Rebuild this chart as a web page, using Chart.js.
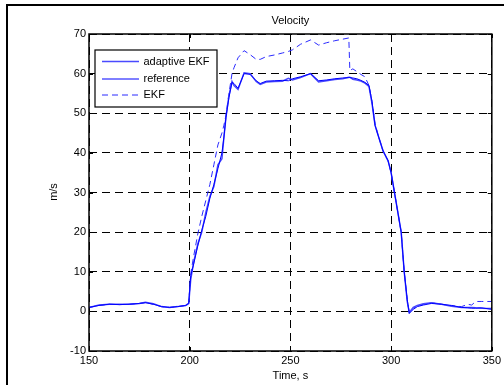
<!DOCTYPE html>
<html><head><meta charset="utf-8">
<script src="https://cdn.jsdelivr.net/npm/chart.js@4/dist/chart.umd.min.js"></script>
<style>html,body{margin:0;padding:0;background:#fff}#wrap{width:504px;height:385px;position:relative}</style>
</head><body><div id="wrap"><canvas id="c" width="504" height="385"></canvas></div>
<script>
const times=[150,155,160,165,170,175,178,182,186,190,194,198,199.5,200.5,202,204,206,208,210,212,214,216,217,218,219.5,221,222,224,227,230,233,235,238,242,246,249,251,255,260,264,268,272,276,279,279.5,281,283,285,287,289,290.5,292,293.5,296,298.5,300,302,305,306.5,308,309,311,313,316,320,325,330,335,338,340,342,345,350];
const reference=[1.0,1.5,1.8,1.7,1.8,2.0,2.2,1.8,1.2,1.0,1.2,1.5,2.0,9.0,12,16.5,20.5,24,28.5,32,36,40,44,49,54,57.8,57.5,56.3,60,59.8,58.2,57.5,58.1,58.2,58.3,58.2,58.7,59.2,60,58.2,58.4,58.7,58.9,59.0,59.0,58.9,58.7,58.3,57.8,57,53,47,44.5,40.5,38,35,29,20,10,3,-0.5,0.5,1.2,1.6,2.0,1.8,1.5,1.0,0.9,0.8,0.8,0.9,0.5];
const adaptiveEKF=[1.0,1.6,1.8,1.8,1.8,2.0,2.3,1.9,1.2,1.0,1.2,1.5,2.0,8,12.5,17,20,25,29,31.5,37,38.5,44,49,54.5,58,57,56,60.2,60,58,57.3,57.9,58,58.1,58.8,58.4,59,60,57.9,58.2,58.5,58.7,59.1,59.1,58.6,58.4,58.1,57.6,56.8,52.5,47,44.5,40.5,38,35,29,20,10,2.5,-0.3,1.0,1.5,1.9,2.2,1.8,1.3,1.0,1.0,1.0,0.9,0.8,0.7];
const ekf=[1.0,1.5,1.8,1.7,1.8,2.0,2.2,1.8,1.2,1.0,1.2,1.5,2.0,9.5,14,19.5,24,28,32,37,42,45,47,49.5,55,60,61.5,64,65.8,64.8,63.6,63.6,64.3,64.7,65.2,65.6,66,67.4,68.5,67.2,67.8,68.3,68.7,69,60.8,61.2,60.5,59.8,59.2,57,53,47.5,44.5,40.5,38,35,29,20,10,3,-0.2,0.8,1.3,1.8,2.2,1.8,1.4,1.2,1.8,1.6,2.5,2.5,2.5];
const seriesNames=['adaptive EKF','reference','EKF'];
const xRange=[150,350], xStep=50;
const yRange=[-10,70], yStep=10;
const titleText='Velocity', xTitle='Time, s', yTitle='m/s';

const FONT='"Liberation Sans", Arial, Helvetica, sans-serif';
const pts=(arr)=>times.map((t,i)=>({x:t,y:arr[i]}));
const styles={
  'adaptive EKF':{color:'#4a4aff',width:1.5,dash:[]},
  'reference':{color:'#0000ff',width:1,dash:[]},
  'EKF':{color:'#2a2aff',width:1,dash:[6,4]}
};

const deco={
  id:'deco',
  afterDraw(chart){
    const ctx=chart.ctx, a=chart.chartArea, xs=chart.scales.x, ys=chart.scales.y;
    ctx.save();
    ctx.strokeStyle='#000'; ctx.lineWidth=2; ctx.setLineDash([]);
    ctx.beginPath(); ctx.moveTo(7,400); ctx.lineTo(7,5); ctx.lineTo(520,5); ctx.stroke();
    ctx.lineWidth=1;
    for(let v=xRange[0]; v<=xRange[1]; v+=xStep){
      const x=Math.round(xs.getPixelForValue(v))+0.5;
      ctx.beginPath(); ctx.moveTo(x,a.bottom); ctx.lineTo(x,a.bottom-4); ctx.moveTo(x,a.top); ctx.lineTo(x,a.top+4); ctx.stroke();
    }
    for(let v=yRange[0]; v<=yRange[1]; v+=yStep){
      const y=Math.round(ys.getPixelForValue(v))+0.5;
      ctx.beginPath(); ctx.moveTo(a.left,y); ctx.lineTo(a.left+4,y); ctx.moveTo(a.right,y); ctx.lineTo(a.right-4,y); ctx.stroke();
    }
    ctx.lineWidth=1.5;
    ctx.strokeRect(a.left,a.top,a.right-a.left,a.bottom-a.top);
    ctx.fillStyle='#000'; ctx.font='11px '+FONT; ctx.textAlign='center'; ctx.textBaseline='middle';
    ctx.fillText(titleText,(a.left+a.right)/2,21);
    ctx.fillText(xTitle,(a.left+a.right)/2,376);
    ctx.save(); ctx.translate(54,192); ctx.rotate(-Math.PI/2); ctx.fillText(yTitle,0,0); ctx.restore();
    const lx=95, ly=50, lw=122, lh=57;
    ctx.fillStyle='#fff'; ctx.fillRect(lx,ly,lw,lh);
    ctx.strokeStyle='#000'; ctx.lineWidth=1.2; ctx.strokeRect(lx,ly,lw,lh);
    const rows=[61.5,79,95];
    seriesNames.forEach((n,i)=>{
      const s=styles[n];
      ctx.strokeStyle=s.color; ctx.lineWidth=s.width; ctx.setLineDash(s.dash);
      ctx.beginPath(); ctx.moveTo(102,rows[i]); ctx.lineTo(139,rows[i]); ctx.stroke();
      ctx.setLineDash([]);
      ctx.fillStyle='#000'; ctx.textAlign='left'; ctx.textBaseline='middle';
      ctx.fillText(n,143.5,rows[i]);
    });
    ctx.restore();
  }
};

const ds=(name,arr)=>({label:name,data:pts(arr),borderColor:styles[name].color,borderWidth:styles[name].width,borderDash:styles[name].dash,pointRadius:0,tension:0,fill:false});

new Chart(document.getElementById('c'),{
  type:'line',
  data:{datasets:[ds('reference',reference),ds('adaptive EKF',adaptiveEKF),ds('EKF',ekf)]},
  options:{
    responsive:false, animation:false, devicePixelRatio:1,
    layout:{padding:{left:0,right:12,top:34,bottom:0}},
    plugins:{legend:{display:false},title:{display:false},tooltip:{enabled:false}},
    scales:{
      x:{type:'linear',min:xRange[0],max:xRange[1],
        ticks:{stepSize:xStep,color:'#000',font:{family:FONT,size:11},padding:3,maxRotation:0,autoSkip:false},
        grid:{color:'#000',lineWidth:1,drawTicks:false},
        border:{display:false,dash:[8,5]},
        afterFit:(s)=>{s.height=34;}},
      y:{type:'linear',min:yRange[0],max:yRange[1],
        ticks:{stepSize:yStep,color:'#000',font:{family:FONT,size:11},padding:3},
        grid:{color:'#000',lineWidth:1,drawTicks:false},
        border:{display:false,dash:[8,5]},
        afterFit:(s)=>{s.width=89;}}
    }
  },
  plugins:[deco]
});
</script></body></html>
